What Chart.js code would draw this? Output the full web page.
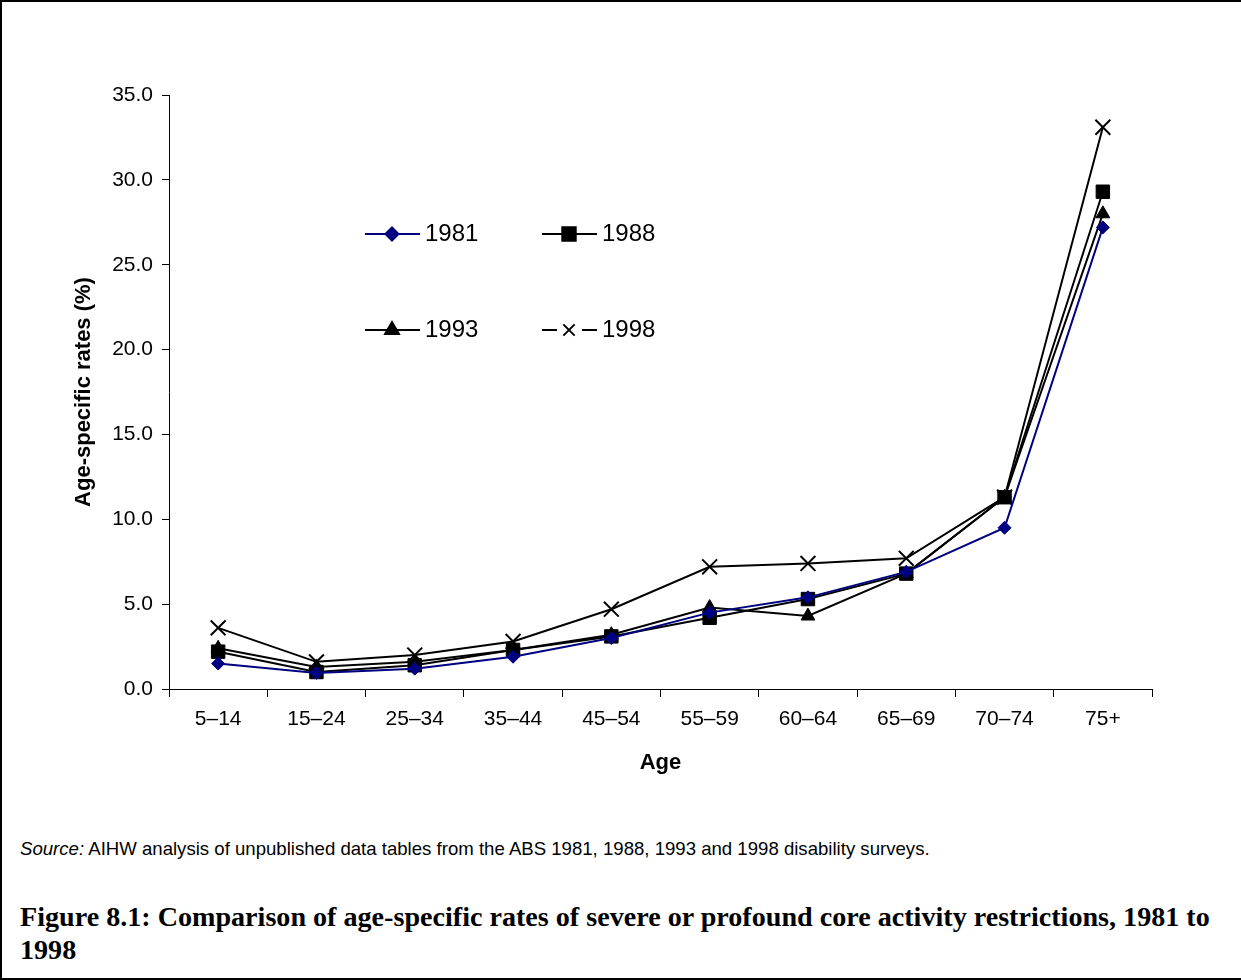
<!DOCTYPE html>
<html>
<head>
<meta charset="utf-8">
<script src="https://cdn.jsdelivr.net/npm/chart.js@4/dist/chart.umd.min.js"></script>
<style>
  html, body { margin: 0; padding: 0; background: #fff; }
  #page {
    position: relative;
    width: 1241px;
    height: 980px;
    box-sizing: border-box;
    border-top: 2px solid #000;
    border-left: 2px solid #000;
    border-bottom: 2px solid #000;
    overflow: hidden;
  }
  #wrap { position: absolute; left: -2px; top: -2px; width: 1241px; height: 800px; }
  #source {
    position: absolute; left: 18px; top: 836px;
    font: 18.6px "Liberation Sans", Arial, sans-serif; color: #000;
    white-space: nowrap;
  }
  #caption {
    position: absolute; left: 18px; top: 898px;
    font-family: "Liberation Serif", "Times New Roman", serif;
    font-weight: bold; font-size: 26px; color: #000;
    line-height: 33px; white-space: nowrap;
  }
</style>
</head>
<body>
<div id="page">
  <div id="wrap"><canvas id="chart" width="1241" height="800"></canvas></div>
  <div id="source"><i>Source:</i> AIHW analysis of unpublished data tables from the ABS 1981, 1988, 1993 and 1998 disability surveys.</div>
  <div id="caption"><span id="capline">Figure 8.1: Comparison of age-specific rates of severe or profound core activity restrictions, 1981 to</span><br>1998</div>
</div>
<script>
// Age groups (x axis)
const ageGroups = ["5–14", "15–24", "25–34", "35–44", "45–54", "55–59", "60–64", "65–69", "70–74", "75+"];

// Age-specific rates (%)
const rates1981 = [1.5, 0.95, 1.2, 1.9, 3.0, 4.5, 5.4, 6.9, 9.5, 27.2];
const rates1988 = [2.2, 1.0, 1.4, 2.3, 3.1, 4.2, 5.3, 6.8, 11.3, 29.3];
const rates1993 = [2.4, 1.3, 1.6, 2.3, 3.2, 4.8, 4.3, 6.8, 11.3, 28.0];
const rates1998 = [3.6, 1.6, 2.0, 2.8, 4.7, 7.2, 7.4, 7.7, 11.3, 33.1];

// y axis range
const yMin = 0;
const yMax = 35;
const yStep = 5;

const font = '"Liberation Sans", Arial, sans-serif';

// stretch the caption's first line to the width it has in the original
const cap = document.getElementById("caption");
const capLine = document.getElementById("capline");
cap.style.fontSize = (26 * 1190 / capLine.getBoundingClientRect().width) + "px";

// Legend drawn inside the plot, 2 x 2 like the original
const legendPlugin = {
  id: "insideLegend",
  afterDraw(chart) {
    const ctx = chart.ctx;
    const slots = [
      { x: 365, y: 234 }, { x: 542, y: 234 },
      { x: 365, y: 330 }, { x: 542, y: 330 }
    ];
    chart.data.datasets.forEach((ds, i) => {
      const s = slots[i];
      ctx.save();
      ctx.strokeStyle = ds.borderColor;
      ctx.lineWidth = 2;
      ctx.beginPath();
      if (ds.pointStyle === "crossRot") {
        // the x marker sits in a gap of the line
        ctx.moveTo(s.x, s.y); ctx.lineTo(s.x + 15, s.y);
        ctx.moveTo(s.x + 40, s.y); ctx.lineTo(s.x + 55, s.y);
      } else {
        ctx.moveTo(s.x, s.y); ctx.lineTo(s.x + 55, s.y);
      }
      ctx.stroke();
      ctx.fillStyle = ds.pointBackgroundColor;
      Chart.helpers.drawPoint(ctx, {
        pointStyle: ds.pointStyle,
        radius: ds.pointStyle === "crossRot" ? 8 : ds.pointRadius,
        rotation: 0,
        borderWidth: ds.pointBorderWidth
      }, s.x + 27, s.y);
      ctx.fillStyle = "#000";
      ctx.font = "24px " + font;
      ctx.textBaseline = "middle";
      ctx.textAlign = "left";
      ctx.fillText(ds.label, s.x + 60, s.y);
      ctx.restore();
    });
  }
};

function series(label, data, color, style, radius) {
  return {
    label: label,
    data: data,
    borderColor: color,
    backgroundColor: color,
    pointBackgroundColor: color,
    pointBorderColor: color,
    pointStyle: style,
    pointRadius: radius,
    pointHoverRadius: radius,
    pointBorderWidth: style === "crossRot" ? 2 : 1,
    borderWidth: 2,
    tension: 0,
    fill: false
  };
}

new Chart(document.getElementById("chart").getContext("2d"), {
  type: "line",
  data: {
    labels: ageGroups,
    datasets: [
      series("1981", rates1981, "#000080", "rectRot", 6.5),
      series("1988", rates1988, "#000000", "rect", 9.5),
      series("1993", rates1993, "#000000", "triangle", 8),
      series("1998", rates1998, "#000000", "crossRot", 10.5)
    ]
  },
  options: {
    animation: false,
    responsive: false,
    layout: { padding: { top: 95, right: 89, bottom: 11, left: 0 } },
    plugins: {
      legend: { display: false },
      tooltip: { enabled: false }
    },
    scales: {
      x: {
        offset: true,
        grid: { drawOnChartArea: false, drawTicks: true, tickLength: 8, color: "#000", offset: true },
        border: { color: "#000", width: 1 },
        ticks: { color: "#000", font: { family: font, size: 21 }, padding: 10, maxRotation: 0 },
        title: { display: true, text: "Age", color: "#000", font: { family: font, size: 22, weight: "bold" }, padding: { top: 0, bottom: 13 } },
        afterFit(scale) { scale.height = 100; }
      },
      y: {
        min: yMin,
        max: yMax,
        grid: { drawOnChartArea: false, drawTicks: true, tickLength: 7, color: "#000" },
        border: { color: "#000", width: 1 },
        ticks: {
          stepSize: yStep,
          color: "#000",
          font: { family: font, size: 21 },
          padding: 9,
          callback: (v) => Number(v).toFixed(1)
        },
        title: { display: true, text: "Age-specific rates (%)", color: "#000", font: { family: font, size: 22, weight: "bold" }, padding: { top: 71, bottom: 0 } },
        afterFit(scale) { scale.width = 169; }
      }
    }
  },
  plugins: [legendPlugin]
});
</script>
</body>
</html>
